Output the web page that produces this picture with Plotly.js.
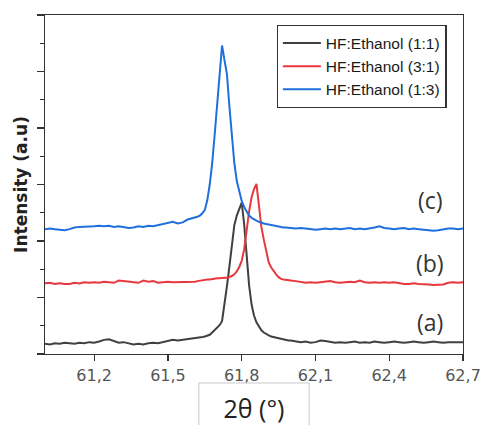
<!DOCTYPE html>
<html>
<head>
<meta charset="utf-8">
<script src="https://cdn.plot.ly/plotly-3.0.1.min.js"></script>
<style>html,body{margin:0;padding:0;background:#fff;}#chart{width:483px;height:425px;}</style>
</head>
<body>
<div id="chart"></div>
<script>
// 2θ grid (degrees)
const twoTheta = [
  61.00,61.02,61.04,61.06,61.08,61.10,61.12,61.14,61.16,61.18,61.20,61.22,61.24,61.26,61.28,61.30,61.32,61.34,61.36,61.38,61.40,61.42,61.44,61.46,61.48,61.50,61.52,61.54,61.56,61.58,
  61.60,61.61,61.62,61.63,61.64,61.65,61.66,61.67,61.68,61.69,61.70,61.71,61.72,61.73,61.74,61.75,61.76,61.77,61.78,61.79,61.80,61.81,61.82,61.83,61.84,61.85,61.86,61.87,61.88,61.89,61.90,61.91,61.92,61.93,61.94,61.95,61.96,61.97,61.98,61.99,
  62.00,62.02,62.04,62.06,62.08,62.10,62.12,62.14,62.16,62.18,62.20,62.22,62.24,62.26,62.28,62.30,62.32,62.34,62.36,62.38,62.40,62.42,62.44,62.46,62.48,62.50,62.52,62.54,62.56,62.58,62.60,62.62,62.64,62.66,62.68,62.70
];
// (a) HF:Ethanol (1:1)
const intensity11 = [
  0.18,0.17,0.19,0.18,0.20,0.19,0.18,0.20,0.19,0.21,0.20,0.22,0.25,0.26,0.23,0.20,0.21,0.19,0.17,0.18,0.17,0.19,0.20,0.19,0.21,0.22,0.25,0.24,0.25,0.27,
  0.27,0.28,0.28,0.29,0.30,0.31,0.32,0.34,0.38,0.42,0.46,0.51,0.58,0.85,1.20,1.55,1.95,2.28,2.45,2.55,2.68,2.30,1.72,1.22,0.88,0.68,0.56,0.48,0.42,0.38,0.35,0.33,0.31,0.30,0.28,0.27,0.27,0.26,0.25,0.24,
  0.24,0.22,0.21,0.22,0.20,0.21,0.24,0.23,0.21,0.20,0.21,0.20,0.21,0.22,0.20,0.21,0.20,0.22,0.21,0.20,0.21,0.22,0.21,0.20,0.21,0.22,0.21,0.20,0.21,0.22,0.21,0.20,0.21,0.21,0.20,0.21
];
// (b) HF:Ethanol (3:1)
const intensity31 = [
  1.25,1.26,1.24,1.25,1.24,1.24,1.26,1.25,1.27,1.26,1.27,1.26,1.28,1.27,1.26,1.30,1.29,1.28,1.27,1.26,1.30,1.28,1.29,1.26,1.27,1.28,1.27,1.27,1.28,1.27,
  1.28,1.28,1.29,1.30,1.31,1.31,1.32,1.32,1.33,1.33,1.34,1.34,1.35,1.35,1.35,1.36,1.38,1.41,1.46,1.54,1.65,1.85,2.20,2.52,2.77,2.92,3.01,2.60,2.25,2.02,1.80,1.62,1.53,1.46,1.41,1.36,1.33,1.32,1.31,1.31,
  1.30,1.29,1.27,1.26,1.27,1.26,1.27,1.28,1.29,1.27,1.26,1.27,1.28,1.27,1.30,1.27,1.26,1.27,1.26,1.27,1.26,1.27,1.25,1.24,1.24,1.25,1.24,1.24,1.23,1.22,1.23,1.23,1.26,1.27,1.26,1.27
];
// (c) HF:Ethanol (1:3)
const intensity13 = [
  2.21,2.22,2.21,2.20,2.19,2.21,2.24,2.25,2.25,2.26,2.26,2.27,2.26,2.27,2.25,2.26,2.25,2.23,2.24,2.26,2.25,2.27,2.26,2.28,2.29,2.32,2.34,2.31,2.33,2.38,
  2.40,2.41,2.43,2.45,2.49,2.55,2.72,3.00,3.38,3.88,4.45,4.95,5.46,5.20,4.95,4.38,3.85,3.38,3.06,2.86,2.71,2.60,2.51,2.45,2.41,2.38,2.36,2.34,2.32,2.31,2.30,2.29,2.28,2.27,2.26,2.26,2.25,2.24,2.24,2.23,
  2.23,2.22,2.23,2.22,2.21,2.20,2.21,2.22,2.21,2.22,2.21,2.22,2.23,2.21,2.22,2.21,2.22,2.24,2.26,2.23,2.22,2.21,2.22,2.23,2.21,2.22,2.21,2.20,2.19,2.18,2.19,2.21,2.22,2.22,2.21,2.22
];
const seriesNames = ['HF:Ethanol (1:1)', 'HF:Ethanol (3:1)', 'HF:Ethanol (1:3)'];
const curveLabels = ['(a)', '(b)', '(c)'];
const xTickStart = 61.2, xTickStep = 0.3;

const colors = ['#404040', '#e8383d', '#1f6fdc'];
const ys = [intensity11, intensity31, intensity13];
const traces = ys.map((y, i) => ({
  x: twoTheta, y: y, type: 'scatter', mode: 'lines', name: seriesNames[i],
  line: {color: colors[i], width: 2}
}));

const labelY = [0.095, 0.268, 0.454];
const layout = {
  width: 483, height: 425,
  margin: {l: 45, r: 20, t: 15, b: 71},
  paper_bgcolor: '#fff', plot_bgcolor: '#fff',
  separators: ',.',
  showlegend: true,
  legend: {
    x: 0.554, y: 0.97, xanchor: 'left', yanchor: 'top',
    bgcolor: '#fff', bordercolor: '#333', borderwidth: 1.3,
    font: {family: 'Liberation Sans, Arial', size: 15.5, color: '#1a1a1a'},
    itemwidth: 38, tracegroupgap: 0
  },
  xaxis: {
    range: [61.0, 62.7], tick0: xTickStart, dtick: xTickStep, tickformat: '.1f',
    ticks: 'outside', ticklen: 6, tickwidth: 1.3, tickcolor: '#333',
    showline: true, linecolor: '#333', linewidth: 1.3, mirror: true,
    showgrid: false, zeroline: false,
    tickfont: {family: 'DejaVu Sans', size: 16, color: '#555'},
    title: {text: '2θ (°)', standoff: 20, font: {family: 'Open Sans', size: 25, color: '#222'}}
  },
  yaxis: {
    range: [0, 6], dtick: 1, showticklabels: false,
    ticks: 'outside', ticklen: 7, tickwidth: 1.3, tickcolor: '#333',
    minor: {dtick: 0.5, ticks: 'outside', ticklen: 4, tickwidth: 1.3, tickcolor: '#333'},
    showline: true, linecolor: '#333', linewidth: 1.3, mirror: true,
    showgrid: false, zeroline: false,
    title: {text: 'Intensity (a.u)', standoff: 4, font: {family: 'DejaVu Sans', size: 17, color: '#222', weight: 'bold'}}
  },
  shapes: [{
    type: 'rect', xref: 'paper', yref: 'paper', x0: 0.368, x1: 0.632, y0: -0.25, y1: -0.0855,
    line: {color: '#c8c8c8', width: 1}, fillcolor: 'rgba(0,0,0,0)'
  }],
  annotations: curveLabels.map((t, i) => ({
    text: t, xref: 'paper', yref: 'paper', x: 0.922, y: labelY[i],
    xanchor: 'center', yanchor: 'middle', showarrow: false,
    font: {family: 'Open Sans', size: 23, color: '#333'}
  }))
};
Plotly.newPlot('chart', traces, layout, {displayModeBar: false, staticPlot: true});
</script>
</body>
</html>
